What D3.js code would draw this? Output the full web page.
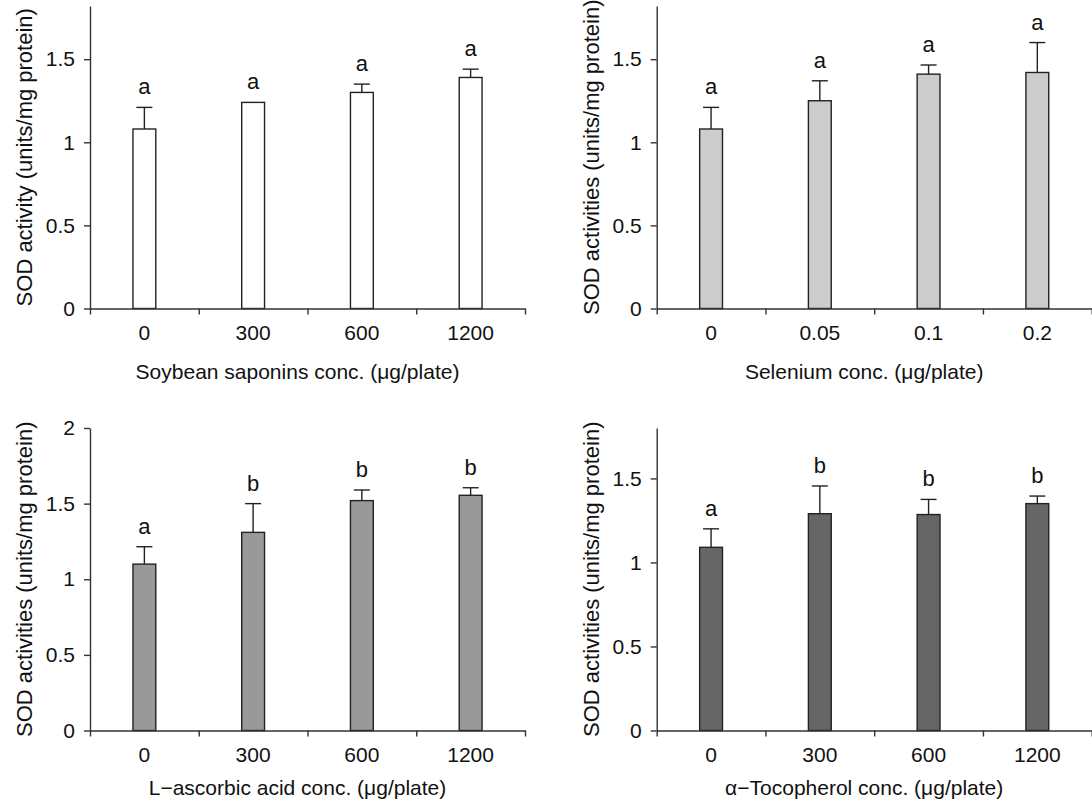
<!DOCTYPE html>
<html>
<head>
<meta charset="utf-8">
<script src="https://cdn.jsdelivr.net/npm/d3@7"></script>
<style>
  body { margin: 0; background: #fff; }
  svg { font-family: "Liberation Sans", Arial, sans-serif; }
  .axis path, .axis line { stroke: #333; stroke-width: 1.4; }
  .axis text { font-size: 21px; fill: #111; }
</style>
</head>
<body>
<svg id="chart" width="1092" height="805"></svg>
<script>
// data
var doseCats = ["0", "300", "600", "1200"];
var seleniumCats = ["0", "0.05", "0.1", "0.2"];

var soyValues = [1.08, 1.24, 1.30, 1.39];
var soyErrors = [0.13, 0, 0.05, 0.05];
var soyLetters = ["a", "a", "a", "a"];

var seleniumValues = [1.08, 1.25, 1.41, 1.42];
var seleniumErrors = [0.13, 0.12, 0.055, 0.18];
var seleniumLetters = ["a", "a", "a", "a"];

var ascorbicValues = [1.10, 1.31, 1.52, 1.555];
var ascorbicErrors = [0.115, 0.19, 0.07, 0.05];
var ascorbicLetters = ["a", "b", "b", "b"];

var tocoValues = [1.09, 1.29, 1.285, 1.35];
var tocoErrors = [0.11, 0.165, 0.09, 0.045];
var tocoLetters = ["a", "b", "b", "b"];

var ticksTop = [0, 0.5, 1, 1.5];
var ticksTwo = [0, 0.5, 1, 1.5, 2];

var panels = [
  { x0: 90, y0: 6, ymax: 1.82, yticks: ticksTop, cats: doseCats, values: soyValues, errors: soyErrors,
    letters: soyLetters, fill: "#ffffff", ylab: "SOD activity (units/mg protein)",
    xlab: "Soybean saponins conc. (\u03bcg/plate)", xlabDy: 70 },
  { x0: 656.7, y0: 6, ymax: 1.82, yticks: ticksTop, cats: seleniumCats, values: seleniumValues, errors: seleniumErrors,
    letters: seleniumLetters, fill: "#cccccc", ylab: "SOD activities (units/mg protein)",
    xlab: "Selenium conc. (\u03bcg/plate)", xlabDy: 70 },
  { x0: 90, y0: 428, ymax: 2, yticks: ticksTwo, cats: doseCats, values: ascorbicValues, errors: ascorbicErrors,
    letters: ascorbicLetters, fill: "#999999", ylab: "SOD activities (units/mg protein)",
    xlab: "L\u2212ascorbic acid conc. (\u03bcg/plate)", xlabDy: 64 },
  { x0: 656.7, y0: 428, ymax: 1.8, yticks: ticksTop, cats: doseCats, values: tocoValues, errors: tocoErrors,
    letters: tocoLetters, fill: "#666666", ylab: "SOD activities (units/mg protein)",
    xlab: "\u03b1\u2212Tocopherol conc. (\u03bcg/plate)", xlabDy: 64 }
];

var innerW = 435, innerH = 302.5;
var svg = d3.select("#chart");

panels.forEach(drawPanel);

function drawPanel(p) {
  var g = svg.append("g").attr("transform", "translate(" + p.x0 + "," + p.y0 + ")");

  var x = d3.scaleBand().domain(p.cats).range([0, innerW]).paddingInner(0);
  var xEdge = d3.scaleLinear().domain([0, p.cats.length]).range([0, innerW]);
  var y = d3.scaleLinear().domain([0, p.ymax]).range([innerH, 0]);
  var bw = x.bandwidth() * 0.21;

  // y axis
  g.append("g").attr("class", "axis")
    .call(d3.axisLeft(y).tickValues(p.yticks).tickSize(6).tickSizeOuter(0).tickPadding(9)
      .tickFormat(function(d) { return d3.format("")(d); }));

  // bars
  g.selectAll("rect.bar").data(p.values).enter().append("rect")
    .attr("class", "bar")
    .attr("x", function(d, i) { return x(p.cats[i]) + x.bandwidth() / 2 - bw / 2; })
    .attr("y", function(d) { return y(d); })
    .attr("width", bw)
    .attr("height", function(d) { return innerH - y(d); })
    .attr("fill", p.fill)
    .attr("stroke", "#222")
    .attr("stroke-width", 1.4);

  // error bars (upper only) and letters
  p.values.forEach(function(v, i) {
    var cx = x(p.cats[i]) + x.bandwidth() / 2;
    var e = p.errors[i];
    if (e > 0) {
      g.append("line").attr("x1", cx).attr("x2", cx)
        .attr("y1", y(v)).attr("y2", y(v + e))
        .attr("stroke", "#222").attr("stroke-width", 1.4);
      g.append("line").attr("x1", cx - 8).attr("x2", cx + 8)
        .attr("y1", y(v + e)).attr("y2", y(v + e))
        .attr("stroke", "#222").attr("stroke-width", 1.4);
    }
    g.append("text")
      .attr("x", cx)
      .attr("y", y(v + e) - 13)
      .attr("text-anchor", "middle")
      .style("font-size", "22px")
      .style("fill", "#111")
      .text(p.letters[i]);
  });

  // x axis: boundary ticks + centred labels
  g.append("g").attr("class", "axis").attr("transform", "translate(0," + innerH + ")")
    .call(d3.axisBottom(xEdge).tickValues(d3.range(p.cats.length + 1)).tickSize(6).tickSizeOuter(0).tickFormat(""));
  g.append("g").attr("class", "axis").attr("transform", "translate(0," + innerH + ")")
    .call(d3.axisBottom(x).tickSize(0).tickPadding(17))
    .select(".domain").remove();

  // axis titles
  g.append("text")
    .attr("x", innerW / 2 - 10)
    .attr("y", innerH + p.xlabDy)
    .attr("text-anchor", "middle")
    .style("font-size", "21px")
    .style("fill", "#111")
    .text(p.xlab);

  g.append("text")
    .attr("transform", "translate(-58," + (innerH / 2) + ")rotate(-90)")
    .attr("text-anchor", "middle")
    .style("font-size", "22px")
    .style("fill", "#111")
    .text(p.ylab);
}
</script>
</body>
</html>
